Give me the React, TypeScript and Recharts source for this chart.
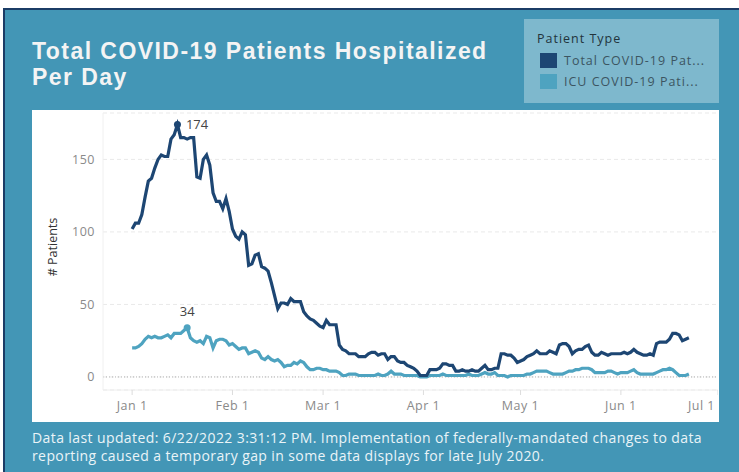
import React from 'react';
import { LineChart, Line, XAxis, YAxis, CartesianGrid, ReferenceLine, ReferenceDot } from 'recharts';

// day 0 = Jan 1 2022, last point = Jun 22
const monthTicks = [0, 31, 59, 90, 120, 151, 181];
const monthLabels = ['Jan 1', 'Feb 1', 'Mar 1', 'Apr 1', 'May 1', 'Jun 1', 'Jul 1'];
const countTicks = [0, 50, 100, 150];

const totalPatients = [
  102, 106, 106, 112, 124, 135, 137, 144, 150, 153,
  152, 152, 164, 167, 174, 165, 165, 164, 165, 165,
  138, 137, 150, 153, 146, 127, 121, 121, 116, 123,
  114, 102, 97, 95, 100, 98, 77, 78, 84, 85,
  76, 75, 73, 65, 56, 47, 51, 51, 50, 54,
  52, 52, 52, 45, 42, 40, 39, 37, 35, 34,
  39, 36, 36, 36, 22, 19, 18, 16, 16, 16,
  14, 14, 14, 16, 17, 17, 15, 16, 16, 12,
  14, 14, 11, 10, 10, 8, 7, 6, 4, 1,
  1, 1, 5, 5, 5, 6, 9, 9, 8, 8,
  4, 4, 5, 4, 4, 5, 4, 4, 6, 8,
  5, 5, 6, 6, 16, 16, 15, 15, 13, 10,
  11, 12, 14, 15, 16, 18, 16, 16, 16, 18,
  17, 16, 22, 23, 23, 21, 16, 18, 19, 19,
  21, 22, 17, 15, 15, 17, 16, 15, 16, 16,
  16, 16, 17, 16, 17, 19, 17, 16, 15, 15,
  16, 15, 23, 24, 24, 24, 26, 30, 30, 29,
  25, 26, 27,
];

const icuPatients = [
  20, 20, 21, 23, 26, 28, 27, 28, 27, 27,
  28, 29, 27, 30, 30, 30, 32, 34, 27, 25,
  24, 25, 23, 28, 27, 20, 25, 26, 26, 25,
  22, 23, 21, 19, 20, 20, 16, 17, 18, 17,
  13, 12, 14, 12, 11, 12, 10, 7, 8, 8,
  10, 9, 11, 10, 7, 5, 5, 6, 6, 5,
  5, 4, 4, 4, 3, 1, 1, 2, 2, 2,
  1, 1, 1, 1, 1, 1, 2, 1, 1, 2,
  4, 2, 2, 2, 1, 1, 1, 1, 1, 0,
  0, 0, 1, 1, 1, 1, 2, 1, 1, 1,
  1, 1, 1, 1, 2, 1, 1, 1, 2, 3,
  2, 2, 3, 1, 1, 1, 0, 1, 1, 1,
  1, 1, 2, 2, 3, 4, 4, 4, 4, 3,
  2, 2, 2, 2, 3, 4, 4, 5, 5, 6,
  6, 6, 5, 3, 3, 3, 3, 4, 4, 3,
  2, 3, 3, 3, 4, 5, 3, 2, 2, 2,
  2, 2, 3, 4, 5, 5, 6, 5, 3, 1,
  1, 1, 2,
];

const data = totalPatients.map((v, i) => ({ day: i, total: v, icu: icuPatients[i] }));

const totalMax = Math.max(...totalPatients);
const totalMaxDay = totalPatients.indexOf(totalMax);
const icuMax = Math.max(...icuPatients);
const icuMaxDay = icuPatients.indexOf(icuMax);

const NAVY = '#1d4673';
const LIGHT = '#4ea3c0';
const TEAL = '#4396b6';
const FONT = '"Open Sans", sans-serif';

// last label sits flush against the right edge, like the Tableau original
const MonthTick = (props: any) => {
  const { x, y, payload } = props;
  const i = monthTicks.indexOf(payload.value);
  const last = i === monthTicks.length - 1;
  const tx = last ? payload.coordinate - 3 : x;
  return (
    <text x={tx} y={y} dy="0.71em" textAnchor={last ? 'end' : 'middle'}
      fill="#8a8a8a" fontSize={12.5} letterSpacing={0.5} fontFamily={FONT}>
      {monthLabels[i]}
    </text>
  );
};

const titleStyle: React.CSSProperties = {
  position: 'absolute', left: 32, color: '#f4f4f4', whiteSpace: 'nowrap',
  fontSize: 23, fontWeight: 700, lineHeight: '26px', height: 26, letterSpacing: 1.45,
  fontFamily: '"Liberation Sans", Arial, sans-serif',
};

export default function App() {
  return (
    <div style={{ position: 'absolute', left: 0, top: 0, width: 739, height: 472, background: '#fff', fontFamily: FONT }}>
      <div style={{
        position: 'absolute', left: 3, top: 8, width: 736, height: 464, background: TEAL,
        borderTop: '2px solid #1b3c66', borderLeft: '2px solid #1b3c66', boxSizing: 'border-box',
      }} />

      <div style={{ ...titleStyle, top: 38 }}>Total COVID-19 Patients Hospitalized</div>
      <div style={{ ...titleStyle, top: 64 }}>Per Day</div>

      <div style={{ position: 'absolute', left: 524, top: 19, width: 195, height: 84, background: '#7eb8cd' }}>
        <div style={{ position: 'absolute', left: 13, top: 11, fontSize: 12.5, letterSpacing: 1, color: '#22343c' }}>Patient Type</div>
        <div style={{ position: 'absolute', left: 16, top: 34, width: 17, height: 15, background: NAVY }} />
        <div style={{ position: 'absolute', left: 40, top: 33, fontSize: 12.5, letterSpacing: 1, color: '#3c5561' }}>Total COVID-19 Pat...</div>
        <div style={{ position: 'absolute', left: 16, top: 55, width: 17, height: 15, background: LIGHT }} />
        <div style={{ position: 'absolute', left: 40, top: 54, fontSize: 12.5, letterSpacing: 1, color: '#3c5561' }}>ICU COVID-19 Pati...</div>
      </div>

      <div style={{ position: 'absolute', left: 32, top: 110, width: 687, height: 312, background: '#fff' }}>
        <LineChart width={686} height={312} data={data} margin={{ top: 3, right: 0, left: 0, bottom: 0 }}>
          <CartesianGrid vertical={false} stroke="#e9e9e9" strokeDasharray="4 3" />
          <XAxis
            type="number" dataKey="day" domain={[-9, 181]} ticks={monthTicks} allowDataOverflow
            height={32} tickSize={5} tickMargin={6} tick={<MonthTick />}
            axisLine={{ stroke: '#eeeeee' }} tickLine={{ stroke: '#dddddd' }}
          />
          <YAxis
            type="number" domain={[-9, 182]} ticks={countTicks} allowDataOverflow width={71}
            tickSize={0} tickMargin={8} axisLine={{ stroke: '#f0f0f0' }} tickLine={false}
            tick={{ fill: '#8a8a8a', fontSize: 12.5, fontFamily: FONT, letterSpacing: 0.5 }}
          />
          <ReferenceLine y={0} stroke="#b0b0b0" strokeDasharray="1 2" />
          <Line type="linear" dataKey="icu" stroke={LIGHT} strokeWidth={3.2} dot={false} isAnimationActive={false} />
          <Line type="linear" dataKey="total" stroke={NAVY} strokeWidth={3.2} dot={false} isAnimationActive={false} />
          <ReferenceDot x={icuMaxDay} y={icuMax} r={3.5} fill={LIGHT} stroke="none"
            label={{ value: String(icuMax), position: 'top', offset: 8, fill: '#444', fontSize: 13, fontFamily: FONT }} />
          <ReferenceDot x={totalMaxDay} y={totalMax} r={3.5} fill={NAVY} stroke="none"
            label={{ value: String(totalMax), position: 'right', offset: 5, fill: '#444', fontSize: 13, fontFamily: FONT }} />
        </LineChart>
        <div style={{
          position: 'absolute', left: 20, top: 137, transform: 'translate(-50%, -50%) rotate(-90deg)',
          fontSize: 12.5, color: '#333', whiteSpace: 'nowrap',
        }}># Patients</div>
      </div>

      <div style={{
        position: 'absolute', left: 32, top: 429, width: 707, color: '#eaf4f8',
        fontSize: 14, lineHeight: '18px', letterSpacing: 0.4, fontFamily: FONT,
      }}>
        Data last updated: 6/22/2022 3:31:12 PM. Implementation of federally-mandated changes to data<br />
        reporting caused a temporary gap in some data displays for late July 2020.
      </div>
    </div>
  );
}
